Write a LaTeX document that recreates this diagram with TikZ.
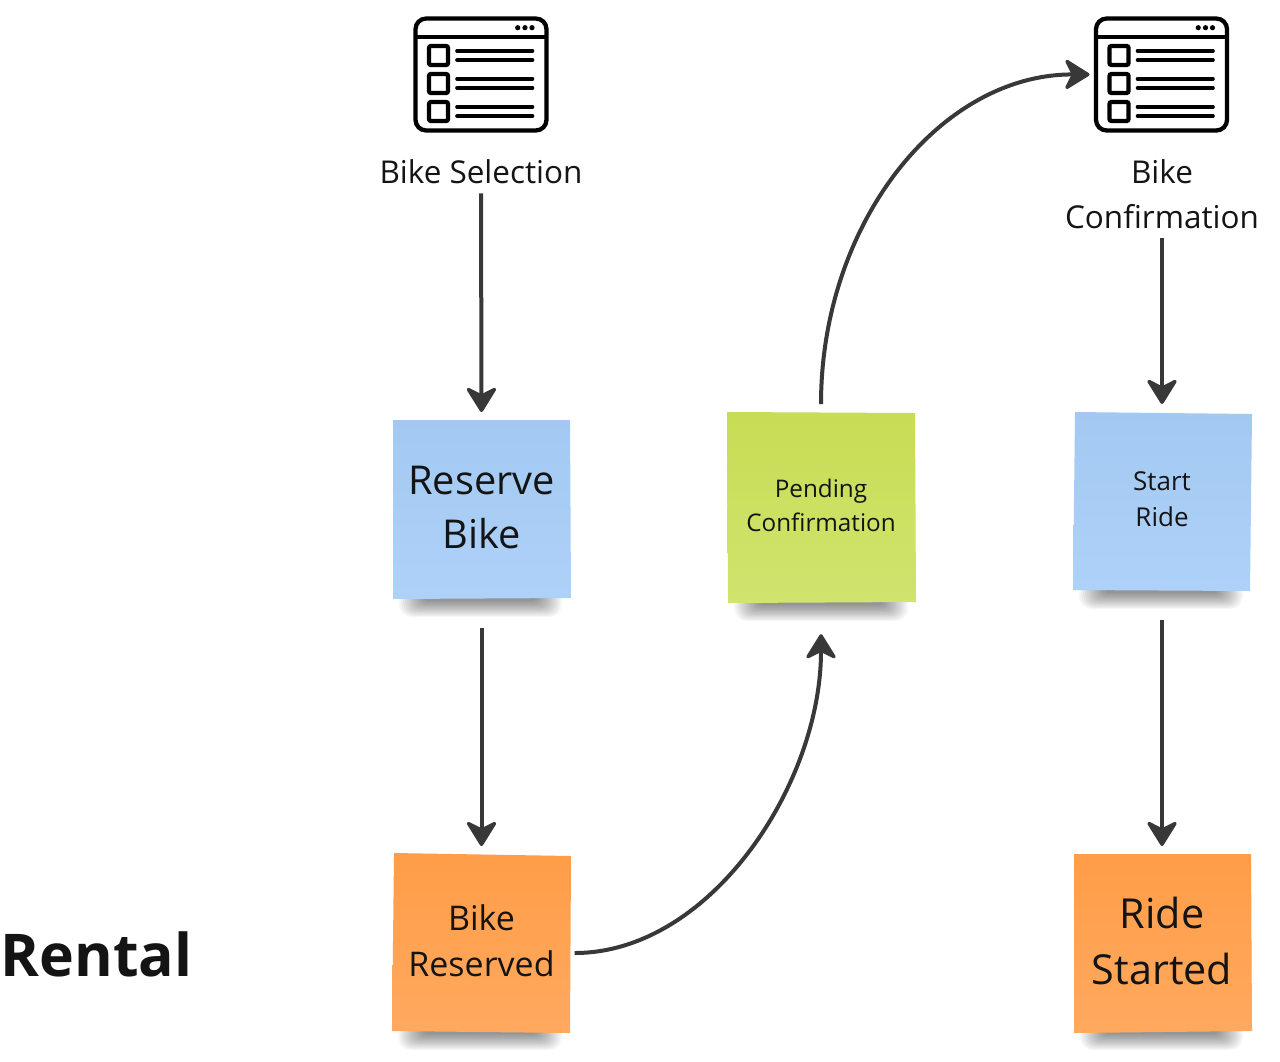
\documentclass[tikz,border=0pt]{standalone}
\usepackage{fontspec}
\setmainfont{Open Sans}
\usetikzlibrary{arrows.meta}
\definecolor{ink}{HTML}{383838}
\definecolor{txt}{HTML}{141414}
\definecolor{blueA}{HTML}{A3C9F2}
\definecolor{blueB}{HTML}{AED1F8}
\definecolor{greenA}{HTML}{C8DC55}
\definecolor{greenB}{HTML}{D0E46E}
\definecolor{orangeA}{HTML}{FF9D48}
\definecolor{orangeB}{HTML}{FFA95F}
\tikzset{
  x=0.75pt,y=-0.75pt,
  flow/.style={draw=ink,line width=3pt,-{Stealth[length=21pt,width=26pt,inset=6.5pt,round,line width=2.5pt]}},
  sticky/.style={draw=none,align=center,text=txt,inner sep=0pt,outer sep=0pt,minimum width=132.75pt,minimum height=134.25pt},
  label/.style={align=center,text=txt,inner sep=0pt,outer sep=0pt},
  iconbox/.style={inner sep=0pt,outer sep=0pt,minimum width=100pt,minimum height=86pt},
  iconline/.style={draw=black,line width=3.2pt},
  iconthin/.style={draw=black,line width=2.7pt,line cap=round},
  bigtxt/.style={font=\fontsize{29.8pt}{41pt}\selectfont},
  bigtxtb/.style={font=\fontsize{31pt}{42pt}\selectfont},
  midtxt/.style={font=\fontsize{25.5pt}{34.5pt}\selectfont},
  smalltxt/.style={font=\fontsize{18.2pt}{25pt}\selectfont},
  starttxt/.style={font=\fontsize{19.5pt}{27pt}\selectfont},
  labeltxt/.style={font=\fontsize{23.6pt}{33.75pt}\selectfont},
}
\newcommand{\stickyshadow}[3]{% left, right, bottom
  \foreach \i in {0,...,13}{
    \fill[black,opacity=0.036,rounded corners={(16-\i)*0.6pt}]
      (#1+6+2*\i,#3-10) rectangle (#2-8-2*\i,#3+18-1.25*\i);
  }
}
\newcommand{\paper}[6]{% four corners, colours
  \shade[top color=#5,bottom color=#6] #1 -- #2 -- #3 -- #4 -- cycle;
}
\newcommand{\browser}[2]{%
  \begin{scope}[shift={(#1,#2)}]
    \draw[iconline,rounded corners=8pt] (-65.5,-56) rectangle (65.5,56);
    \draw[iconline] (-65.5,-37.8) -- (65.5,-37.8);
    \foreach \d in {36.7,44,51}{\fill[black] (\d,-46.8) circle (2.6);}
    \foreach \q in {-19,9,37}{
      \draw[iconline,rounded corners=1.5pt] (-52,\q-9.5) rectangle (-33,\q+9.5);
      \draw[iconthin] (-24,\q-4.8) -- (51.5,\q-4.8);
      \draw[iconthin] (-24,\q+4.5) -- (51.5,\q+4.5);
    }
  \end{scope}}
\begin{document}
\begin{tikzpicture}
\useasboundingbox (0,0) rectangle (1280,1061);
\fill[white] (0,0) rectangle (1280,1061);

\stickyshadow{393}{570}{599}
\stickyshadow{728}{916}{603}
\stickyshadow{1073}{1251}{591}
\stickyshadow{392}{570}{1032}
\stickyshadow{1074}{1251}{1032}

\paper{(393,420)}{(570,420)}{(571,598)}{(393,599)}{blueA}{blueB}
\paper{(727,412)}{(915,413)}{(916,602)}{(728,603)}{greenA}{greenB}
\paper{(1075,412)}{(1252,414)}{(1250,591)}{(1073,590)}{blueA}{blueB}
\paper{(394,853)}{(571,856)}{(570,1033)}{(392,1031)}{orangeA}{orangeB}
\paper{(1074,854)}{(1251,854)}{(1252,1031)}{(1074,1033)}{orangeA}{orangeB}

\node[sticky,bigtxt] (reserve) at (481.5,507.5) {Reserve\\Bike};
\node[sticky,midtxt] (reserved) at (481.5,941) {Bike\\Reserved};
\node[sticky,smalltxt,minimum width=141.5pt,minimum height=142pt] (pending) at (821,505.5) {Pending\\Confirmation};
\node[sticky,starttxt] (start) at (1162,499.5) {Start\\Ride};
\node[sticky,bigtxtb] (started) at (1162,940.5) {Ride\\Started};

\node[iconbox] (iconA) at (481,74.5) {};
\node[iconbox] (iconB) at (1161.5,74.5) {};
\browser{481}{74.5}
\browser{1161.5}{74.5}

\node[label,labeltxt] (selection) at (481,172) {Bike Selection};
\node[label,labeltxt] (confirm) at (1162,194.5) {Bike\\Confirmation};
\node[label,font=\fontsize{44.2pt}{50pt}\selectfont\bfseries] (rental) at (96.5,954.5) {Rental};

\draw[flow,shorten <=7pt,shorten >=4.5pt] (selection.south) -- (reserve.north);
\draw[flow,shorten <=23.3pt,shorten >=4.1pt] (reserve.south) -- (reserved.north);
\draw[flow,shorten <=7pt,shorten >=4.5pt] (confirm.south) -- (start.north);
\draw[flow,shorten <=23.3pt,shorten >=3.75pt] (start.south) -- (started.north);
\draw[flow,shorten <=3.5pt,shorten >=0pt] ([yshift=-9pt]reserved.east) .. controls (710,953) and (821,785) .. ([yshift=-25.5pt]pending.south);
\draw[flow,shorten >=0pt] ([yshift=5pt]pending.north) .. controls (821,222) and (941,74) .. ([xshift=-4pt]iconB.west);
\end{tikzpicture}
\end{document}
